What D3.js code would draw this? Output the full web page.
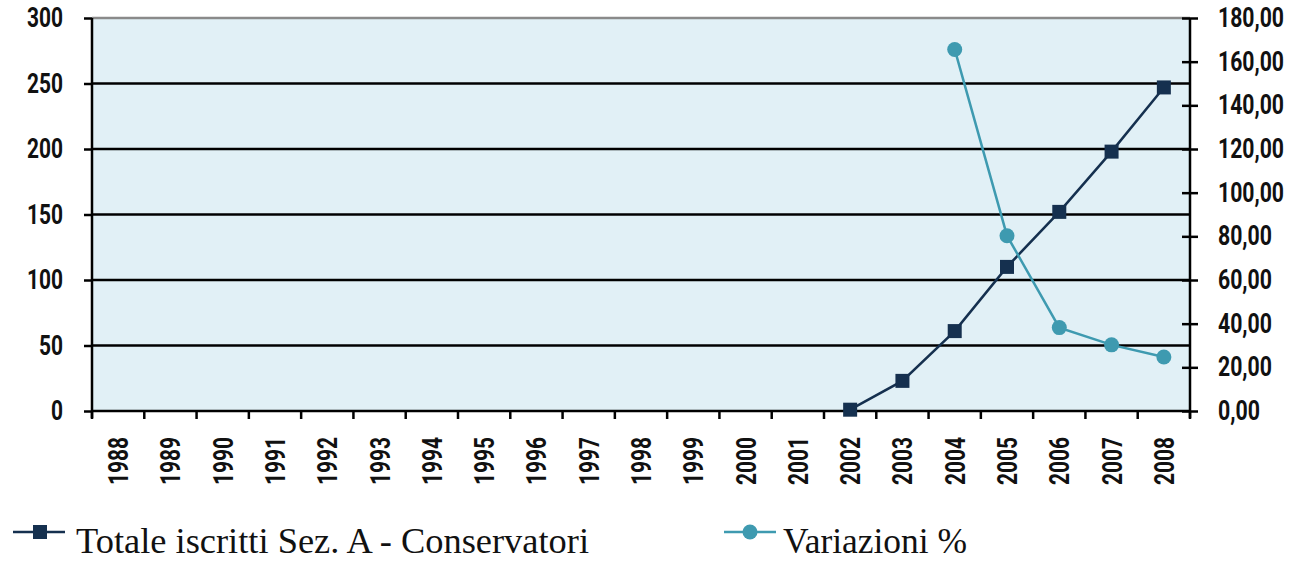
<!DOCTYPE html>
<html>
<head>
<meta charset="utf-8">
<script src="https://cdn.jsdelivr.net/npm/d3@7"></script>
<style>
body { margin: 0; background: #fff; }
.num { font-family: Roboto, "DejaVu Sans", sans-serif; font-weight: bold; }
</style>
</head>
<body>
<script>
// data
var years = ["1988","1989","1990","1991","1992","1993","1994","1995","1996","1997","1998",
             "1999","2000","2001","2002","2003","2004","2005","2006","2007","2008"];
var totale = [null,null,null,null,null,null,null,null,null,null,null,null,null,null,
              1, 23, 61, 110, 152, 198, 247];
var variazioni = [null,null,null,null,null,null,null,null,null,null,null,null,null,null,
                  null, null, 165.6, 80.3, 38.2, 30.3, 24.7];
var leftTicks = [0, 50, 100, 150, 200, 250, 300];
var rightTicks = [0, 20, 40, 60, 80, 100, 120, 140, 160, 180];

var W = 1292, H = 561;
var margin = {top: 18, right: 102, bottom: 150, left: 92},
    width = W - margin.left - margin.right,
    height = H - margin.top - margin.bottom;

// the reference uses a narrow display face; squeeze a normal one horizontally
function squeeze(sel) {
  sel.attr("class", "num").each(function() {
    var t = d3.select(this);
    var s = t.text();
    var digits = s.replace(/[^0-9]/g, "").length;
    var target = digits * 12 + (s.length - digits) * 6;
    var k = target / this.getComputedTextLength();
    var tx = +t.attr("x") || 0;
    t.attr("x", 0)
     .attr("transform", (t.attr("transform") || "") + " translate(" + tx + ",0) scale(" + k + ",1)");
  });
}

var svg = d3.select("body").append("svg")
  .attr("width", W)
  .attr("height", H);

var main = svg.append("g")
  .attr("transform", "translate(" + margin.left + "," + margin.top + ")");

var x = d3.scaleBand().domain(years).range([0, width]);
var y = d3.scaleLinear().domain([0, 300]).range([height, 0]);
var y2 = d3.scaleLinear().domain([0, 180]).range([height, 0]);

// plot background
main.append("rect")
  .attr("width", width)
  .attr("height", height)
  .attr("fill", "#e1f0f6");

// gridlines
main.selectAll(".grid")
  .data(leftTicks.filter(function(d) { return d > 0; }))
  .enter().append("line")
  .attr("x1", 0).attr("x2", width)
  .attr("y1", function(d) { return y(d); })
  .attr("y2", function(d) { return y(d); })
  .attr("stroke", function(d) { return d == 300 ? "#8a8a8a" : "#000"; })
  .attr("stroke-width", 2.5);

// left axis
var yAxis = d3.axisLeft(y).tickValues(leftTicks).tickSize(8).tickPadding(21);
var gy = main.append("g").call(yAxis);
gy.select(".domain").attr("stroke-width", 2.5).attr("d", "M0," + (height + 7) + "V0");
gy.selectAll(".tick line").attr("stroke-width", 2.5);
gy.selectAll(".tick text").style("font-size", "27px").attr("fill", "#111").call(squeeze);

// right axis
var y2Axis = d3.axisRight(y2).tickValues(rightTicks).tickSize(8).tickPadding(20)
  .tickFormat(function(d) { return d3.format(".2f")(d).replace(".", ","); });
var gy2 = main.append("g").attr("transform", "translate(" + width + ",0)").call(y2Axis);
gy2.select(".domain").attr("stroke-width", 2.5).attr("d", "M0," + (height + 7) + "V0");
gy2.selectAll(".tick line").attr("stroke-width", 2.5).attr("x1", -8);
gy2.selectAll(".tick text").style("font-size", "27px").attr("fill", "#111").call(squeeze);

// bottom axis: ticks on category boundaries
var gx = main.append("g").attr("transform", "translate(0," + height + ")");
gx.append("line").attr("x1", 0).attr("x2", width).attr("stroke", "#000").attr("stroke-width", 2.5);
gx.selectAll(".xt")
  .data(years.concat(["end"]))
  .enter().append("line")
  .attr("x1", function(d, i) { return i * x.step(); })
  .attr("x2", function(d, i) { return i * x.step(); })
  .attr("y1", 0).attr("y2", 8)
  .attr("stroke", "#000").attr("stroke-width", 2.5);
gx.selectAll(".xl")
  .data(years)
  .enter().append("text")
  .attr("transform", function(d) {
    return "translate(" + (x(d) + x.bandwidth() / 2 + 10) + ",26) rotate(-90)";
  })
  .attr("text-anchor", "end")
  .style("font-size", "27px")
  .attr("fill", "#111")
  .text(function(d) { return d; })
  .call(squeeze);

var cx = function(d) { return x(d.year) + x.bandwidth() / 2; };

// series: totale iscritti
var totData = years.map(function(yr, i) { return {year: yr, v: totale[i]}; })
  .filter(function(d) { return d.v != null; });
main.append("path")
  .datum(totData)
  .attr("fill", "none")
  .attr("stroke", "#15304f")
  .attr("stroke-width", 2.5)
  .attr("d", d3.line().x(cx).y(function(d) { return y(d.v); }));
main.selectAll(".sq")
  .data(totData)
  .enter().append("rect")
  .attr("x", function(d) { return cx(d) - 7; })
  .attr("y", function(d) { return y(d.v) - 7; })
  .attr("width", 14).attr("height", 14)
  .attr("fill", "#15304f");

// series: variazioni %
var varData = years.map(function(yr, i) { return {year: yr, v: variazioni[i]}; })
  .filter(function(d) { return d.v != null; });
main.append("path")
  .datum(varData)
  .attr("fill", "none")
  .attr("stroke", "#3e9ab0")
  .attr("stroke-width", 2.5)
  .attr("d", d3.line().x(cx).y(function(d) { return y2(d.v); }));
main.selectAll(".dot")
  .data(varData)
  .enter().append("circle")
  .attr("cx", cx)
  .attr("cy", function(d) { return y2(d.v); })
  .attr("r", 7.5)
  .attr("fill", "#3e9ab0");

// legend
var legend = [
  {label: "Totale iscritti Sez. A - Conservatori", color: "#15304f", shape: "square", x: 13, len: 513},
  {label: "Variazioni %", color: "#3e9ab0", shape: "circle", x: 724, len: 184}
];
var lg = svg.selectAll(".lg").data(legend).enter().append("g")
  .attr("transform", function(d) { return "translate(" + d.x + ",532)"; });
lg.append("line").attr("x1", 0).attr("x2", 52).attr("y1", 0).attr("y2", 0)
  .attr("stroke", function(d) { return d.color; }).attr("stroke-width", 2.5);
lg.filter(function(d) { return d.shape == "square"; }).append("rect")
  .attr("x", 20).attr("y", -7).attr("width", 14).attr("height", 14)
  .attr("fill", function(d) { return d.color; });
lg.filter(function(d) { return d.shape == "circle"; }).append("circle")
  .attr("cx", 26).attr("cy", 0).attr("r", 7.5)
  .attr("fill", function(d) { return d.color; });
lg.append("text")
  .attr("x", function(d) { return d.shape == "square" ? 63 : 59; })
  .attr("y", 21)
  .attr("textLength", function(d) { return d.len; })
  .attr("lengthAdjust", "spacingAndGlyphs")
  .style("font-family", "'Liberation Serif', 'DejaVu Serif', serif")
  .style("font-size", "35px")
  .attr("fill", "#111")
  .text(function(d) { return d.label; });
</script>
</body>
</html>
